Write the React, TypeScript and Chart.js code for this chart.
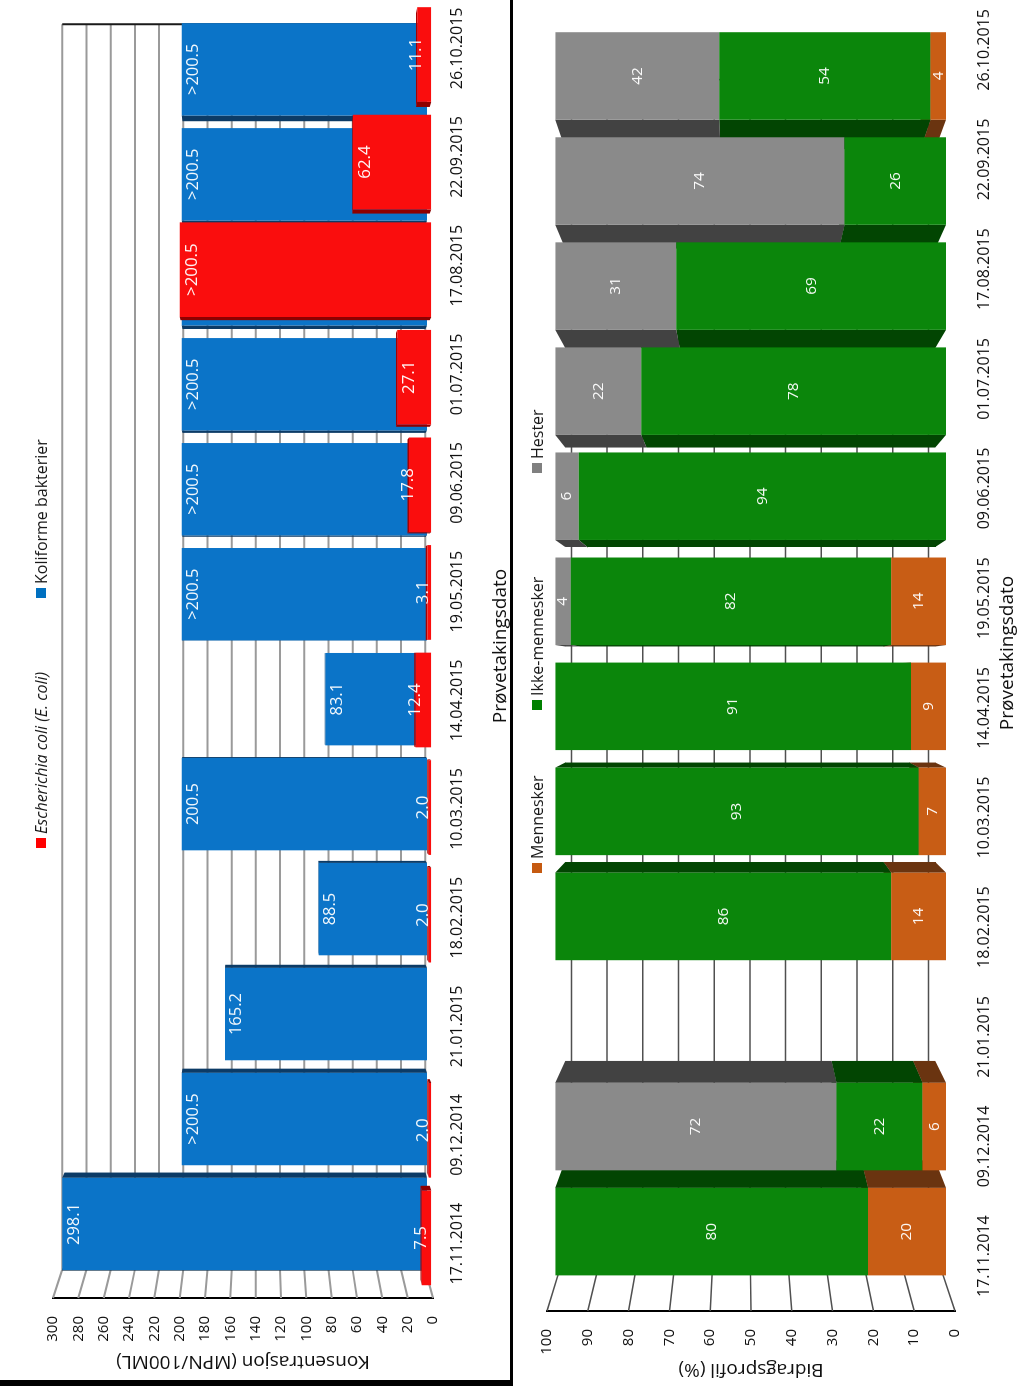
import React, { useEffect, useRef } from 'react';
import { Chart, registerables } from 'chart.js';

Chart.register(...registerables);

const FONT = '"Open Sans"';

// ---------- data ----------
const sampleDates = [
  '17.11.2014', '09.12.2014', '21.01.2015', '18.02.2015', '10.03.2015', '14.04.2015',
  '19.05.2015', '09.06.2015', '01.07.2015', '17.08.2015', '22.09.2015', '26.10.2015',
];

// Chart 1: concentration (MPN/100ML)
const eColi = [7.5, 2.0, null, 2.0, 2.0, 12.4, 3.1, 17.8, 27.1, 200.5, 62.4, 11.1];
const eColiAboveLimit = [false, false, false, false, false, false, false, false, false, true, false, false];
const koliforme = [298.1, 200.5, 165.2, 88.5, 200.5, 83.1, 200.5, 200.5, 200.5, 200.5, 200.5, 200.5];
const koliformeAboveLimit = [false, true, false, false, false, false, true, true, true, true, true, true];
const concentrationMax = 300;
const concentrationStep = 20;

// Chart 2: contribution profile (%)
const mennesker = [20, 6, null, 14, 7, 9, 14, 0, 0, 0, 0, 4];
const ikkeMennesker = [80, 22, null, 86, 93, 91, 82, 94, 78, 69, 26, 54];
const hester = [0, 72, null, 0, 0, 0, 4, 6, 22, 31, 74, 42];
const profileMax = 100;
const profileStep = 10;

// ---------- pseudo-3D perspective plugin ----------
type Row = { kf: number; kb: number; side: string; top: string };
type LegendItem = { text: string; color: string; italic?: boolean; x: number };
type PerspCfg = {
  vx: number;
  vy: number;
  wallK: number;
  mode: 'per' | 'all';
  rows: Row[];
  gridColor: string;
  gridWidth: number;
  edgeColor: string;
  label: (ds: number, i: number, el: any) => { text: string; y: number } | null;
  labelColor: string;
  labelSize: number;
  legendY: number;
  legend: LegendItem[];
};

function makePersp(cfg: PerspCfg) {
  const P = (k: number, x: number, y: number) => [cfg.vx + (x - cfg.vx) * k, cfg.vy + (y - cfg.vy) * k];
  const quad = (ctx: CanvasRenderingContext2D, pts: number[][]) => {
    ctx.beginPath();
    ctx.moveTo(pts[0][0], pts[0][1]);
    for (let i = 1; i < pts.length; i++) ctx.lineTo(pts[i][0], pts[i][1]);
    ctx.closePath();
    ctx.fill();
  };
  const drawFaces = (chart: any, meta: any) => {
    const r = cfg.rows[meta.index];
    const ctx = chart.ctx as CanvasRenderingContext2D;
    ctx.save();
    meta.data.forEach((el: any) => {
      if (!isFinite(el.y) || !isFinite(el.base)) return;
      const yt = Math.min(el.y, el.base);
      const yb = Math.max(el.y, el.base);
      if (yb - yt < 0.5) return;
      const x0 = el.x - el.width / 2;
      const x1 = el.x + el.width / 2;
      let xe: number | null = null;
      if (x1 < cfg.vx) xe = x1;
      else if (x0 > cfg.vx) xe = x0;
      if (xe !== null) {
        ctx.fillStyle = r.side;
        quad(ctx, [P(r.kf, xe, yt), P(r.kf, xe, yb), P(r.kb, xe, yb), P(r.kb, xe, yt)]);
      }
      if (yt > cfg.vy) {
        ctx.fillStyle = r.top;
        quad(ctx, [P(r.kf, x0, yt), P(r.kf, x1, yt), P(r.kb, x1, yt), P(r.kb, x0, yt)]);
      }
    });
    ctx.restore();
  };
  return {
    id: 'persp',
    beforeDatasetsDraw(chart: any) {
      const ctx = chart.ctx as CanvasRenderingContext2D;
      const { left, right, top, bottom } = chart.chartArea;
      const ys = chart.scales.y;
      const line = (a: number[], b: number[]) => {
        ctx.beginPath();
        ctx.moveTo(a[0], a[1]);
        ctx.lineTo(b[0], b[1]);
        ctx.stroke();
      };
      ctx.save();
      ctx.strokeStyle = cfg.gridColor;
      ctx.lineWidth = cfg.gridWidth;
      ys.ticks.forEach((t: any) => {
        const y = ys.getPixelForValue(t.value);
        const a = P(cfg.wallK, left, y);
        const b = P(cfg.wallK, right, y);
        line(a, b);
        line([left, y], a);
      });
      ctx.strokeStyle = cfg.edgeColor;
      line(P(cfg.wallK, right, top), P(cfg.wallK, right, bottom));
      line(P(cfg.wallK, left, top), P(cfg.wallK, left, bottom));
      ctx.restore();
      if (cfg.mode === 'all') {
        chart.getSortedVisibleDatasetMetas().forEach((m: any) => drawFaces(chart, m));
      }
    },
    beforeDatasetDraw(chart: any, args: any) {
      if (cfg.mode === 'per') drawFaces(chart, args.meta);
      const r = cfg.rows[args.index];
      const ctx = chart.ctx as CanvasRenderingContext2D;
      ctx.save();
      ctx.translate(cfg.vx, cfg.vy);
      ctx.scale(r.kf, r.kf);
      ctx.translate(-cfg.vx, -cfg.vy);
    },
    afterDatasetDraw(chart: any, args: any) {
      const ctx = chart.ctx as CanvasRenderingContext2D;
      ctx.font = `${cfg.labelSize}px ${FONT}`;
      ctx.fillStyle = cfg.labelColor;
      ctx.textAlign = 'center';
      ctx.textBaseline = 'middle';
      args.meta.data.forEach((el: any, i: number) => {
        if (!isFinite(el.y) || !isFinite(el.base)) return;
        const l = cfg.label(args.index, i, el);
        if (l) ctx.fillText(l.text, el.x, l.y);
      });
      ctx.restore();
    },
    afterDraw(chart: any) {
      const ctx = chart.ctx as CanvasRenderingContext2D;
      ctx.save();
      ctx.textBaseline = 'middle';
      ctx.textAlign = 'left';
      cfg.legend.forEach((it) => {
        ctx.fillStyle = it.color;
        ctx.fillRect(it.x, cfg.legendY - 5, 10, 10);
        ctx.fillStyle = '#1a1a1a';
        ctx.font = `${it.italic ? 'italic ' : ''}16px ${FONT}`;
        ctx.fillText(it.text, it.x + 14, cfg.legendY + 1);
      });
      ctx.restore();
    },
  };
}

const tickFont = { family: FONT, size: 15 };
const catFont = { family: FONT, size: 16 };
const titleFont = { family: FONT, size: 19 };

function concentrationChart(canvas: HTMLCanvasElement) {
  const sets = [eColi, koliforme];
  const above = [eColiAboveLimit, koliformeAboveLimit];
  const plugin = makePersp({
    vx: 720,
    vy: 260,
    wallK: 0.955,
    mode: 'per',
    rows: [
      { kf: 0.99, kb: 0.981, side: '#8e0000', top: '#a80000' },
      { kf: 0.966, kb: 0.956, side: '#0c3b66', top: '#0a4a80' },
    ],
    gridColor: '#9a9a9a',
    gridWidth: 2,
    edgeColor: '#1a1a1a',
    labelColor: 'rgba(255,255,255,0.95)',
    labelSize: 17,
    label: (ds, i, el) => {
      const v = sets[ds][i];
      if (v === null || v === undefined) return null;
      const h = el.base - el.y;
      const y = h > 24 ? el.y + 12 : Math.min(el.y - 1, el.base - 8.5);
      return { text: (above[ds][i] ? '>' : '') + v.toFixed(1), y };
    },
    legendY: 41,
    legend: [
      { text: 'Escherichia coli (E. coli)', color: '#ff0000', italic: true, x: 538 },
      { text: 'Koliforme bakterier', color: '#0070c0', x: 788 },
    ],
  });
  return new Chart(canvas, {
    type: 'bar',
    data: {
      labels: sampleDates,
      datasets: [
        {
          label: 'Escherichia coli (E. coli)',
          data: eColi,
          backgroundColor: '#fa0d0d',
          barPercentage: 0.88,
          categoryPercentage: 1,
          grouped: false,
        } as any,
        {
          label: 'Koliforme bakterier',
          data: koliforme,
          backgroundColor: '#0b74c8',
          barPercentage: 0.88,
          categoryPercentage: 1,
          grouped: false,
        } as any,
      ],
    },
    options: {
      responsive: false,
      animation: false,
      layout: { padding: { top: 53, right: 8, left: 0, bottom: 0 } },
      plugins: { legend: { display: false }, tooltip: { enabled: false } },
      scales: {
        x: {
          grid: { display: false, drawTicks: false },
          border: { display: false },
          ticks: { font: catFont, color: '#111', padding: 14.4, maxRotation: 0, autoSkip: false },
          title: {
            display: true,
            text: 'Prøvetakingsdato',
            font: titleFont,
            color: '#111',
            padding: { top: 0, bottom: 0 },
          },
          afterFit: (s: any) => {
            s.height = 79;
          },
        },
        y: {
          min: 0,
          max: concentrationMax,
          ticks: { stepSize: concentrationStep, font: tickFont, color: '#111', padding: 18 },
          grid: { display: false, drawTicks: false },
          border: { display: true, color: '#000', width: 2 },
          title: {
            display: true,
            text: 'Konsentrasjon (MPN/100ML)',
            font: titleFont,
            color: '#111',
            padding: { top: 13.1, bottom: 0 },
          },
          afterFit: (s: any) => {
            s.width = 88;
          },
        },
      },
    },
    plugins: [plugin as any],
  });
}

function profileChart(canvas: HTMLCanvasElement) {
  const sets = [mennesker, ikkeMennesker, hester];
  const row = (side: string) => ({ kf: 0.958, kb: 0.907, side, top: side });
  const plugin = makePersp({
    vx: 714,
    vy: 230,
    wallK: 0.875,
    mode: 'all',
    rows: [row('#6a3410'), row('#024502'), row('#424242')],
    gridColor: '#505050',
    gridWidth: 1.5,
    edgeColor: '#505050',
    labelColor: 'rgba(255,255,255,0.95)',
    labelSize: 16,
    label: (ds, i, el) => {
      const v = sets[ds][i];
      if (!v) return null;
      return { text: String(v), y: (el.y + el.base) / 2 };
    },
    legendY: 25,
    legend: [
      { text: 'Mennesker', color: '#c55a11', x: 513 },
      { text: 'Ikke-mennesker', color: '#008000', x: 676 },
      { text: 'Hester', color: '#808080', x: 913 },
    ],
  });
  const common = { barPercentage: 0.833, categoryPercentage: 1 };
  return new Chart(canvas, {
    type: 'bar',
    data: {
      labels: sampleDates,
      datasets: [
        { label: 'Mennesker', data: mennesker, backgroundColor: '#c85d15', ...common },
        { label: 'Ikke-mennesker', data: ikkeMennesker, backgroundColor: '#0b860b', ...common },
        { label: 'Hester', data: hester, backgroundColor: '#8a8a8a', ...common },
      ],
    },
    options: {
      responsive: false,
      animation: false,
      layout: { padding: { top: 35, right: 9, left: 0, bottom: 0 } },
      plugins: { legend: { display: false }, tooltip: { enabled: false } },
      scales: {
        x: {
          stacked: true,
          grid: { display: false, drawTicks: false },
          border: { display: false },
          ticks: { font: catFont, color: '#111', padding: 19.4, maxRotation: 0, autoSkip: false },
          title: {
            display: true,
            text: 'Prøvetakingsdato',
            font: titleFont,
            color: '#111',
            padding: { top: 0, bottom: 4.6 },
          },
          afterFit: (s: any) => {
            s.height = 69;
          },
        },
        y: {
          stacked: true,
          min: 0,
          max: profileMax,
          ticks: { stepSize: profileStep, font: tickFont, color: '#111', padding: 18 },
          grid: { display: false, drawTicks: false },
          border: { display: true, color: '#000', width: 2 },
          title: {
            display: true,
            text: 'Bidragsprofil (%)',
            font: titleFont,
            color: '#111',
            padding: { top: 5.1, bottom: 0 },
          },
          afterFit: (s: any) => {
            s.width = 75;
          },
        },
      },
    },
    plugins: [plugin as any],
  });
}

export default function App() {
  const ref1 = useRef<HTMLCanvasElement>(null);
  const ref2 = useRef<HTMLCanvasElement>(null);
  useEffect(() => {
    const c1 = concentrationChart(ref1.current as HTMLCanvasElement);
    const c2 = profileChart(ref2.current as HTMLCanvasElement);
    return () => {
      c1.destroy();
      c2.destroy();
    };
  }, []);
  return (
    <div
      style={{
        position: 'absolute',
        left: 0,
        top: 0,
        width: 1024,
        height: 1386,
        overflow: 'hidden',
        background: '#fff',
      }}
    >
      <div
        style={{
          position: 'absolute',
          left: 0,
          top: 0,
          width: 1400,
          height: 1024,
          transformOrigin: '0 0',
          transform: 'translate(0px, 1386px) rotate(-90deg)',
        }}
      >
        <canvas
          ref={ref1}
          width={1400}
          height={512}
          style={{ position: 'absolute', left: 0, top: 0, width: 1400, height: 512 }}
        />
        <canvas
          ref={ref2}
          width={1400}
          height={512}
          style={{ position: 'absolute', left: 0, top: 512, width: 1400, height: 512 }}
        />
        <div style={{ position: 'absolute', left: 0, top: 510, width: 1400, height: 3, background: '#000' }} />
        <div style={{ position: 'absolute', left: 0, top: 0, width: 6, height: 513, background: '#000' }} />
      </div>
    </div>
  );
}
